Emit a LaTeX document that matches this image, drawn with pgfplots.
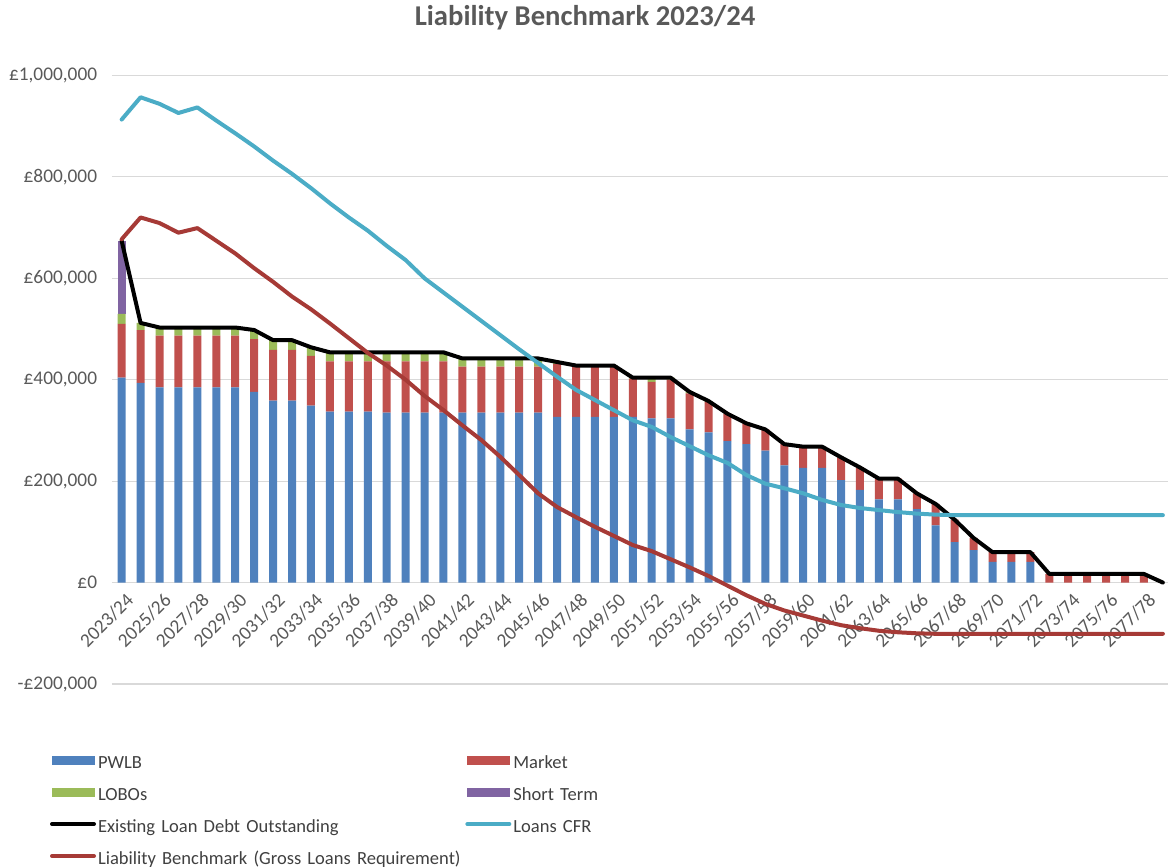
\documentclass[border=0pt]{standalone}
\usepackage{fontspec}
\setmainfont{Carlito}
\usepackage{pgfplots}
\pgfplotsset{compat=1.18}
\usepackage{pgfplotstable}

\definecolor{pwlb}{HTML}{4F81BD}
\definecolor{market}{HTML}{C0504D}
\definecolor{lobo}{HTML}{9BBB59}
\definecolor{short}{HTML}{8064A2}
\definecolor{cfr}{HTML}{4BACC6}
\definecolor{lbc}{HTML}{A63A36}
\definecolor{txt}{HTML}{595959}
\definecolor{legtxt}{HTML}{404040}
\definecolor{grd}{HTML}{D9D9D9}

\newcommand\tickfont{\fontsize{14.5pt}{17pt}\selectfont}
\newcommand\legfont{\fontsize{13.9pt}{17pt}\selectfont}

\pgfplotstableread{
x pwlb market lobo short total cfr lb
0 404000 106000 20000 144000 674000 913000 677000
1 394000 104000 14000 0 512000 957000 720000
2 385000 102000 16000 0 503000 944000 709000
3 385000 102000 16000 0 503000 926000 690000
4 385000 102000 16000 0 503000 937000 699000
5 385000 102000 16000 0 503000 911000 674000
6 385000 102000 16000 0 503000 886000 649000
7 376000 104000 18000 0 498000 860000 620000
8 359000 100000 19000 0 478000 832000 593000
9 359000 100000 19000 0 478000 806000 564000
10 349000 98000 17000 0 464000 778000 539000
11 337000 99000 18000 0 454000 748000 511000
12 337000 99000 18000 0 454000 720000 482000
13 337000 99000 18000 0 454000 694000 453000
14 335000 101000 18000 0 454000 664000 428000
15 335000 101000 18000 0 454000 636000 400000
16 335000 101000 18000 0 454000 600000 368000
17 335000 101000 18000 0 454000 572000 340000
18 335000 91000 16000 0 442000 544000 310000
19 335000 91000 16000 0 442000 516000 281000
20 335000 91000 16000 0 442000 488000 248000
21 335000 91000 16000 0 442000 460000 212000
22 335000 91000 16000 0 442000 433000 176000
23 327000 104000 4000 0 435000 406000 149000
24 327000 99000 2000 0 428000 380000 129000
25 327000 99000 2000 0 428000 360000 110000
26 327000 99000 2000 0 428000 340000 92000
27 327000 75000 2000 0 404000 320000 74000
28 324000 72000 8000 0 404000 307000 62000
29 324000 76000 4000 0 404000 287000 46000
30 302000 71000 3000 0 376000 269000 30000
31 296000 60000 2000 0 358000 251000 13000
32 279000 54000 0 0 333000 236000 -6000
33 273000 41000 0 0 314000 212000 -25000
34 260000 42000 0 0 302000 195000 -42000
35 231000 42000 0 0 273000 186000 -55000
36 226000 42000 0 0 268000 176000 -65000
37 226000 42000 0 0 268000 163000 -75000
38 202000 45000 0 0 247000 153000 -84000
39 183000 44000 0 0 227000 147000 -90000
40 164000 41000 0 0 205000 143000 -95000
41 164000 41000 0 0 205000 139000 -98000
42 145000 31000 0 0 176000 136000 -100000
43 113000 42000 0 0 155000 134000 -101000
44 80000 44000 0 0 124000 133000 -101000
45 64000 24000 0 0 88000 133000 -101000
46 41000 19000 0 0 60000 133000 -101000
47 41000 19000 0 0 60000 133000 -101000
48 41000 19000 0 0 60000 133000 -101000
49 0 17000 0 0 17000 133000 -101000
50 0 17000 0 0 17000 133000 -101000
51 0 17000 0 0 17000 133000 -101000
52 0 17000 0 0 17000 133000 -101000
53 0 17000 0 0 17000 133000 -101000
54 0 17000 0 0 17000 133000 -101000
55 0 0 0 0 0 133000 -101000
}\datatable

\pgfplotsset{base/.style={
  width=792pt, height=456.4pt, scale only axis,
  xmin=-0.51, xmax=55.27, ymin=-200000, ymax=1000000,
  enlargelimits=false,
  at={(84pt,-513pt)}, anchor=south west}}

\begin{document}
\begin{tikzpicture}
\useasboundingbox (0pt,0pt) rectangle (876pt,-650.25pt);

\begin{axis}[base,
  ybar stacked, bar width=6pt,
  axis x line*=middle, axis y line*=left,
  axis line style={draw=none},
  hide obscured x ticks=false, hide obscured y ticks=false,
  major tick length=0pt,
  ymajorgrids, grid style={grd, line width=0.8pt},
  scaled y ticks=false,
  ytick={-200000,0,200000,400000,600000,800000,1000000},
  yticklabels={{-£200,000},{£0},{£200,000},{£400,000},{£600,000},{£800,000},{£1,000,000}},
  yticklabel style={font=\tickfont, text=txt, inner sep=0pt, anchor=east, xshift=-11pt},
  xtick={0,2,...,54},
  xticklabels={2023/24,2025/26,2027/28,2029/30,2031/32,2033/34,2035/36,2037/38,2039/40,2041/42,2043/44,2045/46,2047/48,2049/50,2051/52,2053/54,2055/56,2057/58,2059/60,2061/62,2063/64,2065/66,2067/68,2069/70,2071/72,2073/74,2075/76,2077/78},
  xticklabel style={font=\tickfont, text=txt, inner sep=0pt, xshift=2.5pt, yshift=-7pt, anchor=north east, rotate=45},
]
\addplot[fill=pwlb, draw=none] table[x=x, y=pwlb] {\datatable};
\addplot[fill=market, draw=none] table[x=x, y=market] {\datatable};
\addplot[fill=lobo, draw=none] table[x=x, y=lobo] {\datatable};
\addplot[fill=short, draw=none] table[x=x, y=short] {\datatable};
\end{axis}

\begin{axis}[base, hide axis,
  legend columns=2,
  legend cell align=left,
  legend style={draw=none, fill=none,
    at={(axis description cs:-0.0587,-0.1173)}, anchor=north west,
    inner sep=0pt, outer sep=0pt, row sep=11pt, column sep=0pt,
    nodes={font=\legfont, text=legtxt, inner sep=0pt, text height=10pt, text depth=3pt, text width=275.5pt, align=left},
    /tikz/every odd column/.style={column sep=1.5pt}},
]
\addlegendimage{legend image code/.code={\fill[pwlb] (0pt,0pt) rectangle (31.5pt,6pt);}}
\addlegendimage{legend image code/.code={\fill[market] (0pt,0pt) rectangle (31.5pt,6pt);}}
\addlegendimage{legend image code/.code={\fill[lobo] (0pt,0pt) rectangle (31.5pt,6pt);}}
\addlegendimage{legend image code/.code={\fill[short] (0pt,0pt) rectangle (31.5pt,6pt);}}
\addplot[black, line width=3pt, line join=round, line cap=round,
  legend image code/.code={\draw[black, line width=3pt] (0pt,3pt) -- (31.5pt,3pt);}]
  table[x=x, y=total] {\datatable};
\addplot[cfr, line width=3pt, line join=round, line cap=round,
  legend image code/.code={\draw[cfr, line width=3pt] (0pt,3pt) -- (31.5pt,3pt);}]
  table[x=x, y=cfr] {\datatable};
\addplot[lbc, line width=3pt, line join=round, line cap=round,
  legend image code/.code={\draw[lbc, line width=3pt] (0pt,3pt) -- (31.5pt,3pt);}]
  table[x=x, y=lb] {\datatable};
\legend{\mbox{PWLB}, \mbox{Market}, \mbox{LOBOs}, \mbox{Short Term}, \mbox{Existing Loan Debt Outstanding}, \mbox{Loans CFR}, \mbox{Liability Benchmark (Gross Loans Requirement)}}
\end{axis}

\node[font=\fontsize{21.5pt}{25pt}\selectfont\bfseries, text=txt] at (438.75pt,-13.5pt) {Liability Benchmark 2023/24};
\end{tikzpicture}
\end{document}
